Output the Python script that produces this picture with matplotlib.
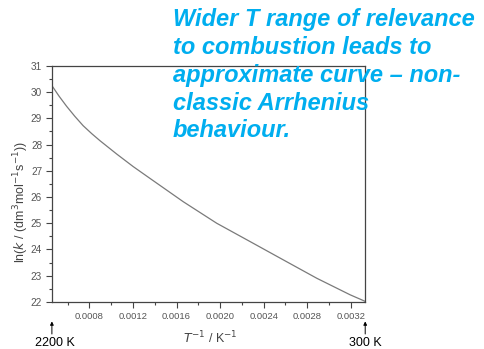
import numpy as np
import matplotlib
matplotlib.use("Agg")
import matplotlib.pyplot as plt
from matplotlib.ticker import MultipleLocator, FormatStrFormatter

plt.rcParams['font.family'] = ['Liberation Sans', 'DejaVu Sans']

# inverse temperature (K^-1) and ln k
inv_T = [1/2200, 0.000520, 0.000590, 0.000665, 0.000742, 0.000820, 0.000896,
         0.001050, 0.001202, 0.001356, 0.001662, 0.001969, 0.002276, 0.002582,
         0.002889, 0.003195, 1/300]
ln_k = [30.25, 29.85, 29.46, 29.08, 28.72, 28.42, 28.15,
        27.64, 27.16, 26.71, 25.82, 25.00, 24.30, 23.60,
        22.90, 22.27, 22.02]

note = "Wider T range of relevance\nto combustion leads to\napproximate curve \u2013 non-\nclassic Arrhenius\nbehaviour."

fig = plt.figure(figsize=(4.85, 3.49), dpi=100)
ax = fig.add_axes([0.107, 0.135, 0.646, 0.676])

ax.plot(inv_T, ln_k, color='#7a7a7a', lw=0.9)
ax.set_xlim(1/2200, 1/300)
ax.set_ylim(22, 31)

ax.xaxis.set_major_locator(MultipleLocator(0.0004))
ax.xaxis.set_minor_locator(MultipleLocator(0.0002))
ax.xaxis.set_major_formatter(FormatStrFormatter('%.4f'))
ax.yaxis.set_major_locator(MultipleLocator(1))
ax.yaxis.set_minor_locator(MultipleLocator(0.5))
ax.tick_params(which='major', direction='out', length=4, width=0.8, colors='#444444',
               labelcolor='#555555')
ax.tick_params(which='minor', direction='out', length=2, width=0.8, colors='#444444')
ax.tick_params(axis='x', labelsize=6.8, pad=3)
ax.tick_params(axis='y', labelsize=7.2, pad=3)
for s in ax.spines.values():
    s.set_color('#444444')
    s.set_linewidth(0.9)

fig.text(21.7/485, 1 - 202/349, r'ln($k$ / (dm$^3$mol$^{-1}$s$^{-1}$))', fontsize=9,
         color='#444444', rotation=90, ha='center', va='center')
fig.text(210/485, 1 - 338/349, r'$T^{-1}$ / K$^{-1}$', fontsize=9,
         color='#444444', ha='center', va='center')

# temperature markers under the axis
for xv, lab, dx in [(1/2200, '2200 K', 0.00003), (1/300, '300 K', 0.0)]:
    ax.annotate('', xy=(xv, 0.087), xycoords=('data', 'figure fraction'),
                xytext=(xv, 0.035), textcoords=('data', 'figure fraction'),
                arrowprops=dict(arrowstyle='-|>', lw=0.7, color='black', mutation_scale=5),
                annotation_clip=False)
    ax.annotate(lab, xy=(xv + dx, 0.0), xycoords=('data', 'figure fraction'),
                ha='center', va='bottom', fontsize=9, annotation_clip=False)

fig.text(173/485, 1 - 8/349, note, color='#00aeef', fontsize=17, fontweight='bold',
         fontstyle='italic', ha='left', va='top', linespacing=1.27)

fig.savefig('out.png', dpi=100)
